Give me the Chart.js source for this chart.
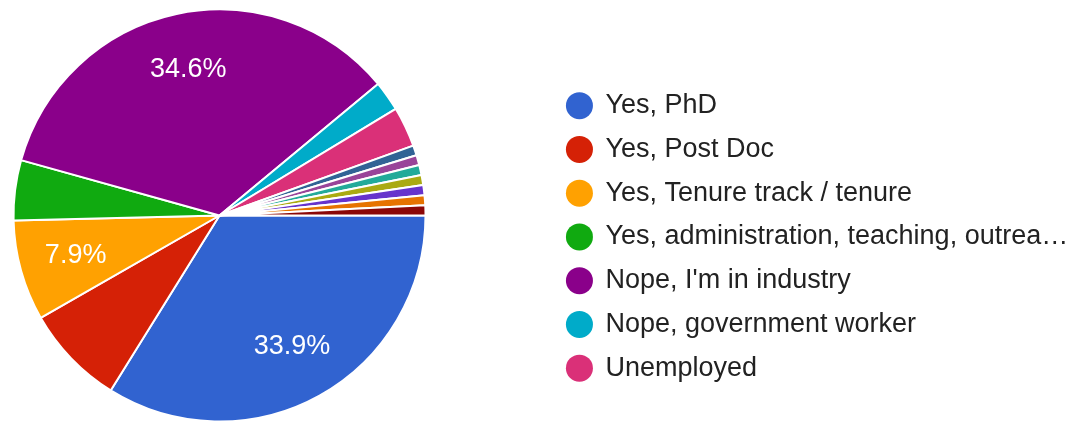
<!DOCTYPE html>
<html>
<head>
<meta charset="utf-8">
<script src="https://cdn.jsdelivr.net/npm/chart.js@4/dist/chart.umd.min.js"></script>
<style>
  html, body { margin: 0; padding: 0; background: #ffffff; }
  #wrap { width: 1085px; height: 424px; position: relative; }
</style>
</head>
<body>
<div id="wrap"><canvas id="chart" width="1085" height="424"></canvas></div>
<script>
// Survey answers: "Are you still in academia?"
const categories = [
  'Yes, PhD',
  'Yes, Post Doc',
  'Yes, Tenure track / tenure',
  'Yes, administration, teaching, outrea\u2026',
  "Nope, I'm in industry",
  'Nope, government worker',
  'Unemployed',
  'Other answer A',
  'Other answer B',
  'Other answer C',
  'Other answer D',
  'Other answer E',
  'Other answer F',
  'Other answer G'
];
const responses = [43, 10, 10, 6, 44, 3, 4, 1, 1, 1, 1, 1, 1, 1];
const sliceColors = [
  '#3163d0', '#d52106', '#ffa101', '#10aa10', '#8a008a', '#00abc9', '#da3078',
  '#316395', '#994499', '#22aa99', '#aaaa11', '#6633cc', '#e67300', '#8b0707'
];
// slices that carry a percentage label inside the pie
const labelledCategories = ['Yes, PhD', 'Yes, Tenure track / tenure', "Nope, I'm in industry"];
// number of entries listed in the legend
const legendEntries = 7;

const FONT = "'Liberation Sans', Arial, Helvetica, sans-serif";
const total = responses.reduce((a, b) => a + b, 0);

// keep the pie in the left part of the canvas, the legend sits to its right
const pieArea = {
  id: 'pieArea',
  afterLayout(chart) {
    const a = chart.chartArea;
    a.left = 0;
    a.right = 439;
    a.width = a.right - a.left;
  }
};

const sliceLabels = {
  id: 'sliceLabels',
  afterDatasetsDraw(chart) {
    const ctx = chart.ctx;
    const meta = chart.getDatasetMeta(0);
    ctx.save();
    ctx.font = '27px ' + FONT;
    ctx.fillStyle = '#ffffff';
    ctx.textAlign = 'center';
    ctx.textBaseline = 'middle';
    meta.data.forEach((arc, i) => {
      if (!labelledCategories.includes(categories[i])) return;
      const p = arc.getProps(['x', 'y', 'startAngle', 'endAngle', 'outerRadius'], true);
      const mid = (p.startAngle + p.endAngle) / 2;
      const r = p.outerRadius * 0.725;
      const pct = (responses[i] / total * 100).toFixed(1) + '%';
      ctx.fillText(pct, p.x + Math.cos(mid) * r, p.y + Math.sin(mid) * r);
    });
    ctx.restore();
  }
};

new Chart(document.getElementById('chart'), {
  type: 'pie',
  data: {
    labels: categories,
    datasets: [{
      data: responses,
      backgroundColor: sliceColors,
      borderColor: '#ffffff',
      borderWidth: 2,
      radius: 206
    }]
  },
  options: {
    responsive: false,
    animation: false,
    rotation: 90,
    layout: { padding: { left: 0, right: 6.8, top: 9, bottom: 2 } },
    plugins: {
      tooltip: { enabled: false },
      legend: {
        position: 'right',
        align: 'start',
        title: { display: true, text: '', font: { size: 12, lineHeight: 1 }, padding: { top: 54.4, bottom: 0 } },
        labels: {
          usePointStyle: true,
          pointStyle: 'circle',
          boxWidth: 25,
          boxHeight: 19.1,
          padding: 16.75,
          color: '#222222',
          font: { family: FONT, size: 27 },
          generateLabels(chart) {
            const items = Chart.overrides.pie.plugins.legend.labels.generateLabels(chart);
            return items.slice(0, legendEntries).map(it => Object.assign(it, { lineWidth: 0, strokeStyle: it.fillStyle }));
          }
        }
      }
    }
  },
  plugins: [pieArea, sliceLabels]
});
</script>
</body>
</html>
